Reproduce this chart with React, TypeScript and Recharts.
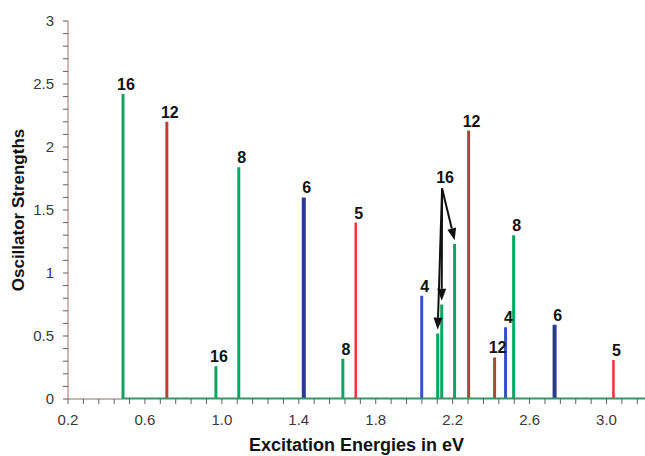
import React from 'react';
import { ComposedChart, Line, XAxis, YAxis, ReferenceDot, ReferenceLine } from 'recharts';

// peaks per series (energy in eV, oscillator strength, cluster label)
const greenEnergies = [0.486, 0.969, 1.088, 1.629, 2.122, 2.143, 2.21, 2.517];
const greenStrengths = [2.42, 0.26, 1.84, 0.32, 0.52, 0.75, 1.23, 1.3];
const greenLabels = ['16', '16', '8', '8', '', '', '', '8'];

const brownEnergies = [0.714, 2.283, 2.418];
const brownStrengths = [2.2, 2.13, 0.33];
const brownLabels = ['12', '12', '12'];

const navyEnergies = [1.426, 2.73];
const navyStrengths = [1.6, 0.59];
const navyLabels = ['6', '6'];

const blueEnergies = [2.039, 2.475];
const blueStrengths = [0.82, 0.57];
const blueLabels = ['4', '4'];

const redEnergies = [1.696, 3.036];
const redStrengths = [1.4, 0.31];
const redLabels = ['5', '5'];

// the three green peaks pointed at by the "16" annotation
const arrowLabel = '16';
const arrowOrigin = { e: 2.145, f: 1.67 };
const arrowTargets = [4, 5, 6];

const xDomain = [0.2, 3.2];
const xMajorTicks = [0.2, 0.6, 1.0, 1.4, 1.8, 2.2, 2.6, 3.0];
const xTickLabels = ['0.2', '0.6', '1.0', '1.4', '1.8', '2.2', '2.6', '3.0'];
const xMinorStep = 0.08;

const yMajorTicks = [0, 0.5, 1, 1.5, 2, 2.5, 3];
const yTickLabels = ['0', '0.5', '1', '1.5', '2', '2.5', '3'];
const yMinorStep = 0.1;

const FONT = 'Arial, "Liberation Sans", sans-serif';

type Pt = { e: number; f: number | null };

const sticks = (energies: number[], strengths: number[], baseline: boolean) => {
  const pts: Pt[] = [];
  energies.forEach((e, i) => {
    pts.push({ e, f: 0 }, { e, f: strengths[i] }, { e, f: 0 });
    if (!baseline) pts.push({ e, f: null });
  });
  if (baseline) pts.push({ e: xDomain[1], f: 0 });
  return pts;
};

const steps = (from: number, to: number, step: number) => {
  const out: number[] = [];
  for (let v = from; v <= to + 1e-9; v += step) out.push(Math.round(v * 1000) / 1000);
  return out;
};

const xTicks = steps(xDomain[0], 3.16, xMinorStep);
const yTicks = steps(0, 3, yMinorStep);

const labelFor = (v: number, majors: number[], labels: string[]) => {
  const i = majors.findIndex((m) => Math.abs(m - v) < 1e-6);
  return i >= 0 ? labels[i] : null;
};

const XTick = (props: any) => {
  const { x, y, payload } = props;
  const lab = labelFor(payload.value, xMajorTicks, xTickLabels);
  return (
    <g>
      <line x1={x} x2={x} y1={y} y2={y + 5} stroke="#6b5a55" strokeWidth={1} />
      {lab && (
        <text x={x} y={y + 26} textAnchor="middle" fontSize={15} fill="#3a3a3a" fontFamily={FONT}>
          {lab}
        </text>
      )}
    </g>
  );
};

const YTick = (props: any) => {
  const { x, y, payload } = props;
  const lab = labelFor(payload.value, yMajorTicks, yTickLabels);
  return (
    <g>
      <line x1={x - 5} x2={x} y1={y} y2={y} stroke="#6b5a55" strokeWidth={1} />
      {lab && (
        <text x={x - 14} y={y + 5} textAnchor="end" fontSize={15} fill="#3a3a3a" fontFamily={FONT}>
          {lab}
        </text>
      )}
    </g>
  );
};

const arrowShape = (p: any) => {
  const { x1, y1, x2, y2 } = p;
  const ang = Math.atan2(y2 - y1, x2 - x1);
  const len = 12;
  const half = 4.5;
  const bx = x2 - len * Math.cos(ang);
  const by = y2 - len * Math.sin(ang);
  const px = -Math.sin(ang) * half;
  const py = Math.cos(ang) * half;
  return (
    <g>
      <line x1={x1} y1={y1} x2={bx} y2={by} stroke="#111" strokeWidth={2} />
      <polygon points={`${x2},${y2} ${bx + px},${by + py} ${bx - px},${by - py}`} fill="#111" />
    </g>
  );
};

const series = [
  { key: 'brown', energies: brownEnergies, strengths: brownStrengths, labels: brownLabels, color: '#b3452c', width: 3 },
  { key: 'navy', energies: navyEnergies, strengths: navyStrengths, labels: navyLabels, color: '#2b3990', width: 4 },
  { key: 'blue', energies: blueEnergies, strengths: blueStrengths, labels: blueLabels, color: '#3553c0', width: 3 },
  { key: 'red', energies: redEnergies, strengths: redStrengths, labels: redLabels, color: '#f2333a', width: 2.5 },
  { key: 'green', energies: greenEnergies, strengths: greenStrengths, labels: greenLabels, color: '#0fa463', width: 3 },
];

const peakLabel = (value: string, offset = 4) => ({
  value,
  position: 'top' as const,
  offset,
  dx: 3,
  fill: '#111',
  fontSize: 16,
  fontWeight: 'bold',
  fontFamily: FONT,
});

export default function App() {
  return (
    <div style={{ position: 'absolute', left: 0, top: 0 }}>
      <ComposedChart
        width={645}
        height={456}
        margin={{ top: 21, right: 0, bottom: 0, left: 0 }}
        style={{ fontFamily: FONT }}
      >
        <XAxis
          type="number"
          dataKey="e"
          domain={xDomain}
          allowDataOverflow
          ticks={xTicks}
          interval={0}
          tickSize={0}
          tickMargin={0}
          tick={<XTick />}
          height={57}
          axisLine={{ stroke: '#8a6f66' }}
          label={{
            value: 'Excitation Energies in eV',
            position: 'insideBottom',
            offset: 5,
            fontSize: 18,
            fontWeight: 'bold',
            fill: '#111',
          }}
        />
        <YAxis
          type="number"
          dataKey="f"
          domain={[0, 3]}
          allowDataOverflow
          ticks={yTicks}
          interval={0}
          tickSize={0}
          tickMargin={0}
          tick={<YTick />}
          width={68}
          axisLine={{ stroke: '#a9705f' }}
          label={{
            value: 'Oscillator Strengths',
            angle: -90,
            position: 'insideLeft',
            offset: 18,
            style: { textAnchor: 'middle' },
            fontSize: 17,
            fontWeight: 'bold',
            fill: '#111',
          }}
        />
        {series.map((s) => (
          <Line
            key={s.key}
            data={sticks(s.energies, s.strengths, s.key === 'green')}
            dataKey="f"
            type="linear"
            stroke={s.color}
            strokeWidth={s.width}
            dot={false}
            activeDot={false}
            connectNulls={false}
            isAnimationActive={false}
          />
        ))}
        {series.flatMap((s) =>
          s.energies.map((e, i) =>
            s.labels[i] ? (
              <ReferenceDot
                key={`${s.key}-${i}`}
                x={e}
                y={s.strengths[i]}
                r={0}
                stroke="none"
                fill="none"
                label={peakLabel(s.labels[i])}
              />
            ) : null
          )
        )}
        {arrowTargets.map((idx) => (
          <ReferenceLine
            key={`arrow-${idx}`}
            segment={[
              { x: arrowOrigin.e, y: arrowOrigin.f },
              { x: greenEnergies[idx], y: greenStrengths[idx] + 0.03 },
            ]}
            shape={arrowShape}
          />
        ))}
        <ReferenceDot
          x={arrowOrigin.e}
          y={arrowOrigin.f}
          r={0}
          stroke="none"
          fill="none"
          label={peakLabel(arrowLabel, 6)}
        />
      </ComposedChart>
    </div>
  );
}
